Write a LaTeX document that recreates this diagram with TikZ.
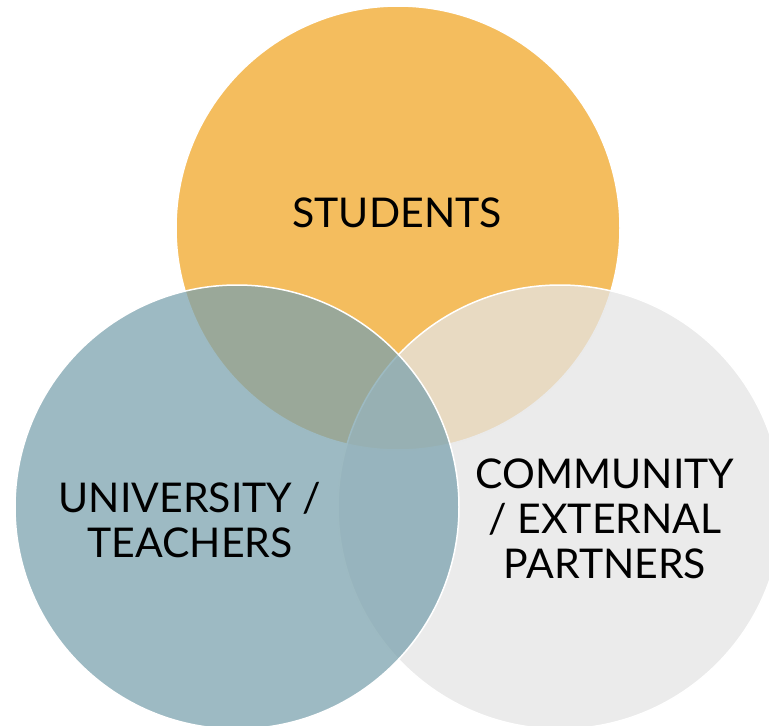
\documentclass[tikz,border=0pt]{standalone}
\usepackage{fontspec}
\setmainfont{Lato}
\definecolor{stucol}{RGB}{244,189,94}
\definecolor{comcol}{RGB}{228,228,228}
\definecolor{unicol}{RGB}{123,162,174}
\tikzset{
  venn/.style={circle, minimum size=444pt, inner sep=0pt, draw=white, line width=1.5pt},
  lbl/.style={font=\fontsize{41}{45}\selectfont, align=center, text=black, inner sep=0pt}
}
\begin{document}
\begin{tikzpicture}[x=1pt,y=-1pt]
\useasboundingbox (0,0) rectangle (769,726);
\node[venn, fill=stucol] (stu) at (398,228) {};
\node[venn, fill=comcol, fill opacity=0.75] (com) at (560,507) {};
\node[venn, fill=unicol, fill opacity=0.74] (uni) at (237,507) {};
\node[lbl] (stut) at (397,213) {STUDENTS};
\node[lbl] (unit) at (190,520) {UNIVERSITY /\\TEACHERS};
\node[lbl] (comt) at (605,519) {COMMUNITY\\/ EXTERNAL\\PARTNERS};
\end{tikzpicture}
\end{document}
